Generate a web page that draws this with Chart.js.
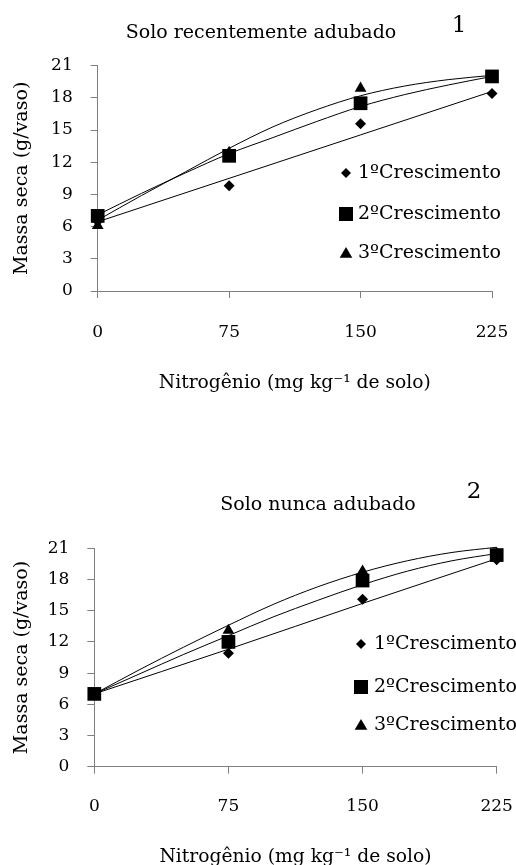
<!DOCTYPE html>
<html><head><meta charset="utf-8">
<script src="https://cdn.jsdelivr.net/npm/chart.js@4"></script>
<style>
html,body{margin:0;padding:0;background:#fff;width:516px;height:865px;overflow:hidden;}
canvas{position:absolute;left:0;}
#c1{top:0;}
#c2{top:430px;}
</style></head><body>
<canvas id="c1" width="516" height="430"></canvas>
<canvas id="c2" width="516" height="435"></canvas>
<script>
// ---- shared axes / labels ----
const nitrogen = [0, 75, 150, 225];
const fitX = [0, 25, 50, 75, 100, 125, 150, 175, 200, 225];
const xTickValues = [0, 75, 150, 225];
const yTickValues = [0, 3, 6, 9, 12, 15, 18, 21];
const seriesLabels = ['1ºCrescimento', '2ºCrescimento', '3ºCrescimento'];
const xTitle = 'Nitrogênio (mg kg⁻¹ de solo)';
const yTitle = 'Massa seca (g/vaso)';

// ---- Chart 1: Solo recentemente adubado ----
const title1 = 'Solo recentemente adubado';
const rec_c1 = [6.5, 9.8, 15.6, 18.4];
const rec_c2 = [7.0, 12.6, 17.5, 20.0];
const rec_c3 = [6.1, 12.9, 18.9, 20.0];
const rec_fit1 = [6.45, 10.5, 14.55, 18.6];           // at nitrogen
const rec_fit2 = [7.1, 9.1, 11.0, 12.8, 14.3, 15.8, 17.2, 18.3, 19.2, 20.0]; // at fitX
const rec_fit3 = [6.6, 8.9, 11.1, 13.3, 15.3, 16.9, 18.2, 19.1, 19.7, 20.1]; // at fitX

// ---- Chart 2: Solo nunca adubado ----
const title2 = 'Solo nunca adubado';
const nun_c1 = [7.0, 10.9, 16.1, 19.9];
const nun_c2 = [7.0, 12.0, 17.9, 20.35];
const nun_c3 = [7.0, 13.1, 18.8, 20.5];
const nun_fit1 = [7.0, 11.3, 15.7, 20.0];             // at nitrogen
const nun_fit2 = [7.0, 8.9, 10.8, 12.6, 14.4, 16.0, 17.5, 18.8, 19.8, 20.5];
const nun_fit3 = [7.0, 9.3, 11.5, 13.6, 15.6, 17.3, 18.7, 19.8, 20.6, 21.1];

const FONT = '"DejaVu Serif"';
Chart.defaults.font.family = FONT;
Chart.defaults.color = '#000';

const markerStyles = ['rectRot', 'rect', 'triangle'];
const markerRadii = [5.5, 9.7, 6.8];

function drawMarker(ctx, style, x, y, s) {
  ctx.beginPath();
  if (style === 'rectRot') {
    ctx.moveTo(x, y - s); ctx.lineTo(x + s, y); ctx.lineTo(x, y + s); ctx.lineTo(x - s, y);
  } else if (style === 'rect') {
    ctx.rect(x - s, y - s, 2 * s, 2 * s);
  } else {
    ctx.moveTo(x, y - s); ctx.lineTo(x + s * 1.05, y + s * 0.8); ctx.lineTo(x - s * 1.05, y + s * 0.8);
  }
  ctx.closePath();
  ctx.fill();
}

const annot = {
  id: 'annot',
  afterDraw(chart, args, o) {
    const ctx = chart.ctx;
    ctx.save();
    ctx.fillStyle = '#000';
    ctx.textAlign = 'center';
    ctx.textBaseline = 'middle';
    ctx.font = '19px ' + FONT;
    ctx.fillText(o.title, o.titleX, o.titleY);
    ctx.font = '23px ' + FONT;
    ctx.fillText(o.num, o.numX, o.numY);
    // legend
    ctx.font = '19px ' + FONT;
    ctx.textAlign = 'left';
    const sizes = [5, 7, 6];
    seriesLabels.forEach((lab, i) => {
      const y = o.legY[i];
      drawMarker(ctx, markerStyles[i], o.legMX, y, sizes[i]);
      ctx.fillText(lab, o.legTX, y);
    });
    ctx.restore();
  }
};

function makeChart(id, fits, obs, area, tickPad, titlePadB, ann) {
  const datasets = [];
  fits.forEach((f) => {
    datasets.push({
      label: '', data: f.x.map((x, j) => ({x: x, y: f.y[j]})),
      showLine: true, borderColor: '#000', backgroundColor: '#000', borderWidth: 1,
      pointRadius: 0, cubicInterpolationMode: 'monotone', order: 2, clip: false
    });
  });
  obs.forEach((vals, i) => {
    datasets.push({
      label: seriesLabels[i], data: nitrogen.map((x, j) => ({x: x, y: vals[j]})),
      showLine: false, pointStyle: markerStyles[i], pointRadius: markerRadii[i],
      pointHoverRadius: markerRadii[i],
      backgroundColor: '#000', borderColor: '#000', borderWidth: 0, order: 1, clip: false
    });
  });
  const cv = document.getElementById(id);
  const H = cv.height;
  return new Chart(cv, {
    type: 'scatter',
    data: {datasets},
    plugins: [annot],
    options: {
      responsive: false, animation: false, events: [],
      layout: {padding: {left: 0, right: 516 - area.right, top: area.top, bottom: 0}},
      plugins: {legend: {display: false}, tooltip: {enabled: false}, annot: ann},
      scales: {
        x: {
          type: 'linear', min: 0, max: 225,
          afterBuildTicks: (s) => { s.ticks = xTickValues.map(v => ({value: v})); },
          afterFit: (s) => { s.height = H - area.bottom; s.paddingLeft = 0; s.paddingRight = 0; },
          border: {color: '#808080', width: 1},
          grid: {drawOnChartArea: false, drawTicks: true, tickLength: 7, color: '#808080'},
          ticks: {font: {size: 17}, padding: tickPad.x, color: '#000', maxRotation: 0},
          title: {display: true, text: xTitle, font: {size: 18.7}, padding: {top: 0, bottom: titlePadB}, color: '#000'}
        },
        y: {
          min: 0, max: 21,
          afterBuildTicks: (s) => { s.ticks = yTickValues.map(v => ({value: v})); },
          afterFit: (s) => { s.width = area.left; s.paddingTop = 0; s.paddingBottom = 0; },
          border: {color: '#808080', width: 1},
          grid: {drawOnChartArea: false, drawTicks: true, tickLength: 7, color: '#808080'},
          ticks: {font: {size: 17}, padding: tickPad.y, color: '#000'},
          title: {display: true, text: yTitle, font: {size: 19}, padding: {top: 11, bottom: 0}, color: '#000'}
        }
      }
    }
  });
}

makeChart('c1',
  [{x: nitrogen, y: rec_fit1}, {x: fitX, y: rec_fit2}, {x: fitX, y: rec_fit3}],
  [rec_c1, rec_c2, rec_c3],
  {left: 97.7, right: 492, top: 65.7, bottom: 291},
  {x: 24, y: 18},
  36,
  {title: title1, titleX: 261, titleY: 33, num: '1', numX: 459, numY: 26,
   legMX: 346, legTX: 358, legY: [173, 214, 253]}
);

makeChart('c2',
  [{x: nitrogen, y: nun_fit1}, {x: fitX, y: nun_fit2}, {x: fitX, y: nun_fit3}],
  [nun_c1, nun_c2, nun_c3],
  {left: 94.3, right: 496.7, top: 118.3, bottom: 336.7},
  {x: 23, y: 18},
  -3,
  {title: title2, titleX: 318, titleY: 75, num: '2', numX: 474, numY: 62,
   legMX: 361, legTX: 374, legY: [214, 257, 295]}
);
</script>
</body></html>
